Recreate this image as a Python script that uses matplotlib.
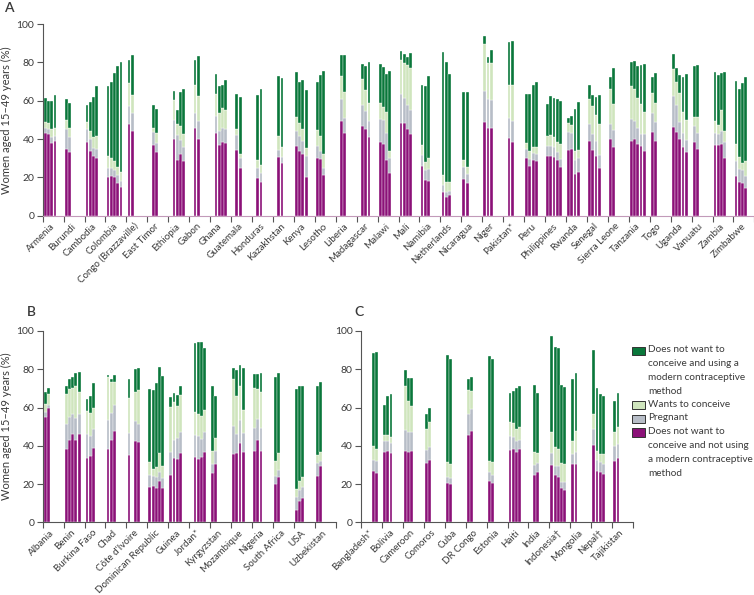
import matplotlib.pyplot as plt
from matplotlib.patches import Rectangle

plt.rcParams['font.family'] = ['Lato', 'DejaVu Sans']

# segments per survey (bottom to top), None = empty survey slot
a_countries = ["Armenia", "Burundi", "Cambodia", "Colombia", "Congo (Brazzaville)", "East Timor",
               "Ethiopia", "Gabon", "Ghana", "Guatemala", "Honduras", "Kazakhstan", "Kenya",
               "Lesotho", "Liberia", "Madagascar", "Malawi", "Mali", "Namibia", "Netherlands",
               "Nicaragua", "Niger", "Pakistan*", "Peru", "Philippines", "Rwanda", "Senegal",
               "Sierra Leone", "Tanzania", "Togo", "Uganda", "Vanuatu", "Zambia", "Zimbabwe"]
a_not_using = [[43, 42.5, 38, 39], [35, 33], [38.5, 34, 31, 30], [20, 20.5, 20, 17, 15], [48, 44],
               [None, 37, 33], [None, 40, 29, 32, 28.5], [None, 45.5, 40], [None, 43, 37, 38.5, 38],
               [None, 34.5, 25], [None, 19.5, 17.5], [None, 30.5, 27.5], [36.5, 33.5, 32, 20],
               [30, 29.5, 21], [None, 49.5, 43], [None, 47, 45, 41], [38.5, 37.5, 29, 22.5],
               [48.5, 48.5, 45, 42.5], [26, 18.5, 18], [12.5, 9.5, 11], [19, 17], [49, 46, 46],
               [None, 40.5, 38.5], [30, 26, 29, 28.5], [31, 31, 30.5, 29, 25.5], [34.5, 35, 22, 23],
               [39, 34.5, 31, 25], [40, 36], [39, 40, 37.5, 36.5, 34], [43.5, 39],
               [46.5, 43.5, 40, 36, 33], [38.5, 35], [37, 37, 37.5, 30], [20.5, 17.5, 17, 14.5]]
a_pregnant = [[3, 2.5, 3, 2.5], [10, 8], [6.5, 6, 4.5, 5], [5, 4.5, 4, 4, 3], [9, 9.5],
              [None, 6.5, 5], [None, 10, 13, 7.5, 7.5], [None, 8, 9.5], [None, 9, 7, 7, 7],
              [None, 7.5, 5], [None, 5.5, 5], [None, 4, 3], [7.5, 8, 7, 11],
              [6.5, 4, 4], [None, 11.5, 8], [None, 11, 9.5, 8.5], [12, 12.5, 14, 7.5],
              [15, 13, 13, 12.5], [5.5, 5.5, 6.5], [3.5, 3, 2], [6.5, 4.5], [16, 15, 14.5],
              [None, 10.5, 11], [5, 3.5, 3.5, 3.5], [5.5, 5.5, 5.5, 4, 4], [9, 8, 7, 7],
              [9, 8, 8, 6.5], [8, 8.5], [11.5, 9.5, 8.5, 6, 8.5], [10, 10],
              [16, 14.5, 9, 7, 6.5], [8.5, 8], [6, 5.5, 6.5, 8.5], [8, 7, 7, 6]]
a_wants = [[3, 3.5, 4, 4.5], [5, 5], [4, 4, 5.5, 6.5], [6, 5, 4.5, 4.5, 5], [12, 9.5],
           [None, 2.5, 5], [None, 10.5, 6, 7.5, 6.5], [None, 14.5, 13], [None, 11.5, 9.5, 10.5, 10],
           [None, 3, 2], [None, 4, 4], [None, 7, 5.5], [7.5, 7, 6, 4.5],
           [8, 8, 7], [None, 12, 13.5], [None, 13.5, 11, 9.5], [8.5, 6.5, 11, 4],
           [17.5, 18, 20.5, 22], [5.5, 4, 5.5], [5, 5, 4.5], [3.5, 4], [24.5, 18.5, 19],
           [None, 17, 18.5], [3, 4, 3.5, 4], [5, 5.5, 5, 5.5, 8], [5, 4.5, 4.5, 4.5],
           [13, 14.5, 13.5, 16.5], [18, 14], [17, 16.5, 15.5, 16, 11.5], [10.5, 10],
           [14, 11.5, 15, 11, 10.5], [4.5, 8.5], [6.5, 5, 11, 5.5], [9, 6, 3.5, 8]]
a_using = [[12.5, 11.5, 15, 17], [11, 13], [9, 15.5, 21, 26], [36.5, 40, 46, 52.5, 57], [12, 21],
           [None, 12, 12.5], [None, 4.5, 7, 17.5, 23.5], [None, 13, 21], [None, 10.5, 14, 12, 16],
           [None, 18.5, 30], [None, 34, 39.5], [None, 31.5, 36], [23.5, 21.5, 26, 30],
           [25, 32, 43.5], [None, 11, 19.5], [None, 7.5, 12.5, 21], [20, 21, 20, 41.5],
           [5, 5, 4.5, 8], [31, 39.5, 43], [64.5, 62.5, 56.5], [35.5, 39], [4.5, 3.5, 7],
           [None, 22.5, 23], [25.5, 30, 32, 34], [17, 20.5, 20.5, 22.5, 22.5], [2.5, 4.5, 22, 25],
           [7, 6, 9.5, 15], [6.5, 18.5], [12.5, 14.5, 16.5, 20, 25], [8.5, 15.5],
           [8, 7.5, 9.5, 18.5, 24], [26.5, 27], [25.5, 26, 19.5, 31], [33, 35.5, 41.5, 44]]

b_countries = ["Albania", "Benin", "Burkina Faso", "Chad", "Côte d'Ivoire", "Dominican Republic",
               "Guinea", "Jordan*", "Kyrgyzstan", "Mozambique", "Nigeria", "South Africa", "USA",
               "Uzbekistan"]
b_not_using = [[55, 59.5], [38.5, 43, 46, 43, 46], [33.5, 34.5, 39], [38.5, 43, 47.5],
               [35, None, 42.5, 42], [18.5, 19, 18, 21.5, 18], [24.5, 33.5, 33, 36],
               [None, 34, 33, 34, 37], [26, 30.5], [35.5, 36, 41.5, 37], [37.5, 43, 37.5],
               [20, 23.5], [6.5, 11, 12.5], [24, 29.5]]
b_pregnant = [[2.5, 2], [13, 12, 10.5, 11.5, 10.5], [12.5, 10.5, 10], [15, 14, 14],
              [11.5, None, 10.5, 9.5], [6, 5, 5.5, 5, 5], [12, 9.5, 11, 11],
              [None, 11.5, 12, 9.5, 10], [4.5, 7], [15, 10, 12, 9.5], [12, 11, 12],
              [4, 4], [6.5, 6, 6], [7, 2.5]]
b_wants = [[4.5, 5.5], [15.5, 14.5, 13.5, 16.5, 11.5], [12, 12, 10.5], [22.5, 16.5, 12],
           [18.5, None, 15, 17.5], [7, 4, 5.5, 9.5, 6.5], [24, 20, 17, 19.5],
           [None, 12, 11.5, 12, 11.5], [7, 6.5], [24.5, 20, 17.5, 12], [20.5, 15.5, 18.5],
           [8, 8.5], [4.5, 4.5, 5], [4, 4.5]]
b_using = [[6, 3], [4.5, 5.5, 6, 7, 10.5], [6.5, 9, 13.5], [1, 1.5, 3.5],
           [10, None, 12, 11.5], [38, 41, 44, 45, 47], [5, 4.5, 5.5, 4.5],
           [None, 36, 38, 38.5, 32.5], [34, 22], [5.5, 13.5, 11, 22], [7.5, 8, 10],
           [44, 42], [52, 50, 47.5], [36.5, 37]]

c_countries = ["Bangladesh*", "Bolivia", "Cameroon", "Comoros", "Cuba", "DR Congo", "Estonia",
               "Haiti", "India", "Indonesia\u2020", "Mongolia", "Nepal\u2020", "Tajikistan"]
c_not_using = [[None, None, None, 27, 26], [37, 37.5, 36], [37.5, 36.5, 37.5], [31, 32.5],
               [20.5, 20], [45.5, 47.5], [21.5, 20.5], [38, 38.5, 37, 38.5], [None, 24.5, 26.5],
               [30, 24.5, 23.5, 18, 17], [30.5, 30.5], [40.5, 27, 26.5, 25.5], [32, 33.5]]
c_pregnant = [[None, None, None, 5.5, 6], [5.5, 5, 5.5], [10.5, 10.5, 9.5], [7, 7],
              [3, 3], [11, 11.5], [5, 4], [7, 6, 5.5, 4.5], [None, 5.5, 4.5],
              [6, 5, 6, 3, 4], [5, 6], [8.5, 5.5, 5, 5], [8, 7.5]]
c_wants = [[None, None, None, 7.5, 6.5], [3, 3, 3], [23.5, 16.5, 14], [11, 13],
           [8, 7.5], [12.5, 9.5], [5.5, 7], [7.5, 7.5, 6.5, 7], [None, 7, 5],
           [11, 10, 9, 10, 9.5], [7, 11], [7.5, 5, 4, 5], [7, 9]]
c_using = [[None, None, None, 48.5, 50.5], [16, 20.5, 22.5], [8, 12, 14.5], [7.5, 7.5],
           [56, 55], [6, 7.5], [55, 54], [15, 16.5, 21, 21], [None, 35, 31.5],
           [50.5, 52, 52.5, 41, 40], [32.5, 30.5], [33.5, 32.5, 31.5, 30.5], [16.5, 17.5]]

C_USING = '#0a773b'
C_WANTS = '#cfe5bd'
C_PREG = '#b7bdc7'
C_NOT = '#8b1178'
TXT = '#3a3a3a'

W, H = 754, 595
fig = plt.figure(figsize=(W / 100, H / 100), dpi=100)


def draw_panel(ax, countries, not_using, pregnant, wants, using, base_col):
    xs, s1, s2, s3, s4 = [], [], [], [], []
    for i in range(len(countries)):
        for j, v in enumerate(not_using[i]):
            if v is None:
                continue
            xs.append(i + 0.12 + j * 0.155)
            s1.append(v)
            s2.append(pregnant[i][j])
            s3.append(wants[i][j])
            s4.append(using[i][j])
    b = [0] * len(xs)
    for vals, col in ((s1, C_NOT), (s2, C_PREG), (s3, C_WANTS), (s4, C_USING)):
        ax.bar(xs, vals, width=0.135, bottom=b, color=col, edgecolor='white',
               linewidth=0.25, align='center')
        b = [p + q for p, q in zip(b, vals)]
    n = len(countries)
    ax.set_xlim(0, n)
    ax.set_ylim(0, 100)
    ax.set_xticks(range(n + 1))
    ax.set_xticklabels([])
    ax.set_xticks([i + 0.5 for i in range(n)], minor=True)
    ax.set_xticklabels(countries, minor=True, rotation=45, ha='right',
                       va='center', rotation_mode='anchor', fontsize=7, color=TXT)
    ax.tick_params(axis='x', which='minor', length=0, pad=6.5)
    ax.tick_params(axis='x', which='major', length=4, width=0.8, color='#555555')
    ax.set_yticks([0, 20, 40, 60, 80, 100])
    ax.tick_params(axis='y', length=4, width=0.8, color='#555555', labelsize=7.5,
                   labelcolor=TXT, pad=2)
    for s in ('top', 'right'):
        ax.spines[s].set_visible(False)
    ax.spines['left'].set_color('#555555')
    ax.spines['left'].set_linewidth(0.8)
    ax.spines['bottom'].set_color(base_col)
    ax.spines['bottom'].set_linewidth(0.8)


ax_a = fig.add_axes([42.7 / W, 1 - 215.7 / H, 711.7 / W, 191.7 / H])
draw_panel(ax_a, a_countries, a_not_using, a_pregnant, a_wants, a_using, '#c29ab9')
ax_b = fig.add_axes([42.7 / W, 1 - 522.3 / H, 293 / W, 191.3 / H])
draw_panel(ax_b, b_countries, b_not_using, b_pregnant, b_wants, b_using, '#555555')
ax_c = fig.add_axes([361 / W, 1 - 522.3 / H, 272.1 / W, 191.3 / H])
draw_panel(ax_c, c_countries, c_not_using, c_pregnant, c_wants, c_using, '#555555')

ax_a.set_ylabel("Women aged 15\u201349 years (%)", fontsize=8, color=TXT, labelpad=3)
ax_b.set_ylabel("Women aged 15\u201349 years (%)", fontsize=8, color=TXT, labelpad=3)

fig.text(4 / W, 1 - 2 / H, "A", fontsize=10, fontweight='semibold', color=TXT, va='top')
fig.text(27 / W, 1 - 306 / H, "B", fontsize=10, fontweight='semibold', color=TXT, va='top')
fig.text(354 / W, 1 - 306 / H, "C", fontsize=10, fontweight='semibold', color=TXT, va='top')

# legend drawn by hand so the swatches sit on the first text line
legend_items = [
    (C_USING, "Does not want to\nconceive and using a\nmodern contraceptive\nmethod"),
    (C_WANTS, "Wants to conceive"),
    (C_PREG, "Pregnant"),
    (C_NOT, "Does not want to\nconceive and not using\na modern contraceptive\nmethod"),
]
y = 346
line_h = 13.6
for col, label in legend_items:
    fig.add_artist(Rectangle((632 / W, 1 - (y + 9) / H), 13 / W, 8.5 / H, transform=fig.transFigure,
                             facecolor=col, edgecolor='#333333', linewidth=0.7))
    fig.text(648 / W, 1 - (y - 0.5) / H, label, fontsize=7.2, color=TXT, va='top',
             linespacing=1.7)
    y += line_h * (label.count("\n") + 1)

fig.savefig("out.png", dpi=100)
